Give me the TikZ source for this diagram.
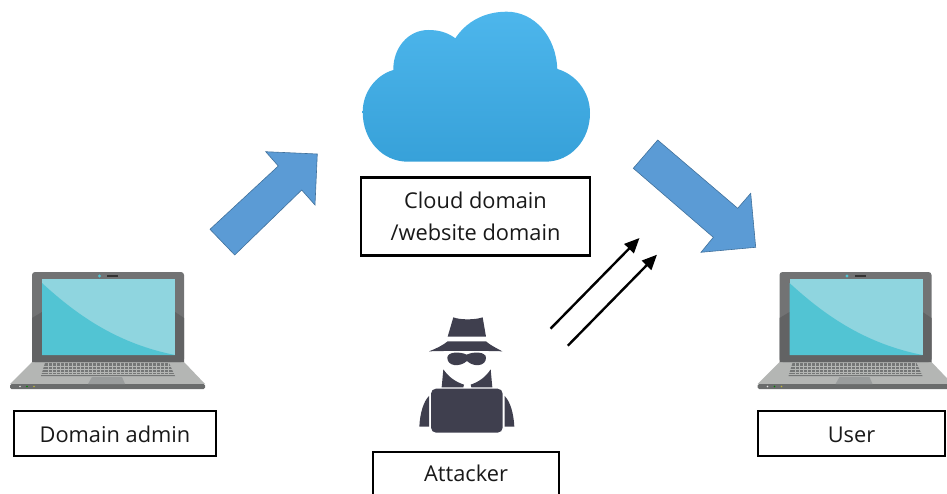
\documentclass[tikz,border=0pt]{standalone}
\usepackage{fontspec}
\setmainfont{Open Sans}
\usetikzlibrary{arrows.meta}
\definecolor{bluearrow}{HTML}{5B9BD5}
\definecolor{bluearrowedge}{HTML}{41719C}
\definecolor{bezel}{HTML}{727374}
\definecolor{bezeldark}{HTML}{626364}
\definecolor{screenlight}{HTML}{8FD5DF}
\definecolor{screendark}{HTML}{52C4D3}
\definecolor{basegrey}{HTML}{B4B6B4}
\definecolor{stripgrey}{HTML}{6A6C6C}
\definecolor{keysgrey}{HTML}{747676}
\definecolor{padgrey}{HTML}{9A9D9D}
\definecolor{spy}{HTML}{3F3F4E}
\definecolor{cloudtop}{HTML}{4DB6EC}
\definecolor{cloudbot}{HTML}{37A1D9}
\tikzset{
  x=1pt,y=-1pt,
  labelbox/.style={draw=black,line width=2.6pt,fill=white,inner sep=0pt,align=center,font=\fontsize{21.8}{31.5}\selectfont,text=black!90},
  bigarrow/.style={fill=bluearrow,draw=bluearrowedge,line width=0.6pt,line join=miter},
  thinarrow/.style={draw=black,line width=2.4pt,-{Triangle[length=15pt,width=13pt]}},
  spyshape/.style={fill=spy,draw=none},
  pics/laptop/.style={code={
    \fill[basegrey] (32,362) -- (184,362) -- (205,384) -- (10,384) -- cycle;
    \fill[stripgrey,rounded corners=1.5pt] (10,384) -- (205,384) -- (205,389) -- (10,389) -- cycle;
    \fill[white!80!gray] (20,386.5) circle (0.8);
    \fill[green!50!black] (27,386.5) circle (0.8);
    \fill[yellow!70!black] (34,386.5) circle (0.8);
    \fill[keysgrey] (45,363) -- (169,363) -- (175,376) -- (41,376) -- cycle;
    \foreach \yy in {366,369,372,374.5}{\draw[basegrey,line width=0.5pt] (40,\yy) -- (176,\yy);}
    \foreach \xx in {48,52,...,168}{\draw[basegrey,line width=0.35pt] (\xx,363) -- (\xx,374);}
    \fill[padgrey] (92,377) -- (122,377) -- (125,384) -- (88,384) -- cycle;
    \fill[bezel,rounded corners=3pt] (32,362) -- (32,272) -- (184,272) -- (184,362) -- cycle;
    \fill[bezeldark] (32,318) -- (42,312) -- (175,312) -- (184,318) -- (184,362) -- (32,362) -- cycle;
    \fill[screenlight] (42,279) rectangle (175,355);
    \fill[screendark] (42,283) .. controls (80,318) and (120,344) .. (175,355) -- (42,355) -- cycle;
    \fill[screendark] (99.5,276) circle (1.7);
    \fill[black!80] (107,275) rectangle (118,277);
  }}
}
\begin{document}
\begin{tikzpicture}
\useasboundingbox (0,0) rectangle (947,494);
% cloud
\path[top color=cloudtop,bottom color=cloudbot]
  (393.3,70) .. controls (376,75) and (362.7,92) .. (362.7,112)
  .. controls (362.7,140) and (382,161.7) .. (408,161.7)
  -- (545,161.7)
  .. controls (571,161.7) and (590,140) .. (590,113)
  .. controls (590,91) and (575,74) .. (557.3,69)
  .. controls (556,36) and (534,11.7) .. (506.7,11.7)
  .. controls (484,11.7) and (466,22) .. (455.3,38.3)
  .. controls (447,32) and (438,30) .. (428.3,30)
  .. controls (408,30) and (393,48) .. (393.3,70) -- cycle;
% big arrows
\draw[bigarrow] (265.7,151.7) -- (317.3,154) -- (315,205) -- (301.7,190) -- (234.7,255) -- (210,229.3) -- (278.3,166) -- cycle;
\draw[bigarrow] (657.7,140) -- (633.3,168.3) -- (713.3,237.3) -- (701,252.3) -- (755.7,247.3) -- (750.7,193.3) -- (737.7,208.3) -- cycle;
% thin arrows
\coordinate (atk1) at (550.5,328.7);
\coordinate (dom1) at (639.5,238);
\coordinate (atk2) at (567.8,345.7);
\coordinate (dom2) at (657,254.7);
\draw[thinarrow] (atk1) -- (dom1);
\draw[thinarrow] (atk2) -- (dom2);
% laptops
\pic at (0,0) {laptop};
\pic at (747.5,0) {laptop};
% attacker (offset 410,310; scale 1/3)
\begin{scope}[shift={(410,310)},x=0.3333pt,y=-0.3333pt]
  \fill[spyshape] (130,22) .. controls (150,30) and (195,30) .. (218,22) -- (228,80) -- (113,80) -- cycle;
  \fill[spyshape] (57,124) .. controls (80,115) and (100,105) .. (113,94) -- (228,94) .. controls (240,105) and (260,115) .. (277,124) .. controls (220,122) and (120,122) .. (57,124) -- cycle;
  \fill[spyshape] (112,143) .. controls (112,125) and (150,124) .. (170,134) .. controls (190,124) and (228,125) .. (228,143) .. controls (228,170) and (190,172) .. (171,153) .. controls (150,172) and (112,170) .. (112,143) -- cycle;
  \fill[spyshape] (100,178) .. controls (115,200) and (135,215) .. (162,224) -- (160,232) -- (95,232) -- cycle;
  \fill[spyshape] (242,178) .. controls (228,200) and (208,215) .. (182,224) -- (184,232) -- (247,232) -- cycle;
  \fill[spyshape,rounded corners=5pt] (63,236) rectangle (278,368);
  \fill[spyshape] (57,258) -- (57,350) -- (28,350) .. controls (30,310) and (40,275) .. (57,258) -- cycle;
  \fill[spyshape] (284,258) -- (284,350) -- (313,350) .. controls (311,310) and (301,275) .. (284,258) -- cycle;
\end{scope}
% labels
\node[labelbox,minimum width=202pt,minimum height=45pt] (admin) at (115,433.5) {\rule[-4pt]{0pt}{26pt}Domain admin};
\node[labelbox,minimum width=229pt,minimum height=78pt] (cloud) at (475.5,216.5) {Cloud domain\\/website domain};
\node[labelbox,minimum width=186pt,minimum height=46pt] (attacker) at (466,475) {\rule[-8pt]{0pt}{29.4pt}Attacker};
\node[labelbox,minimum width=187pt,minimum height=45pt] (user) at (851.5,433.5) {\rule[-4pt]{0pt}{26pt}User};
\end{tikzpicture}
\end{document}
